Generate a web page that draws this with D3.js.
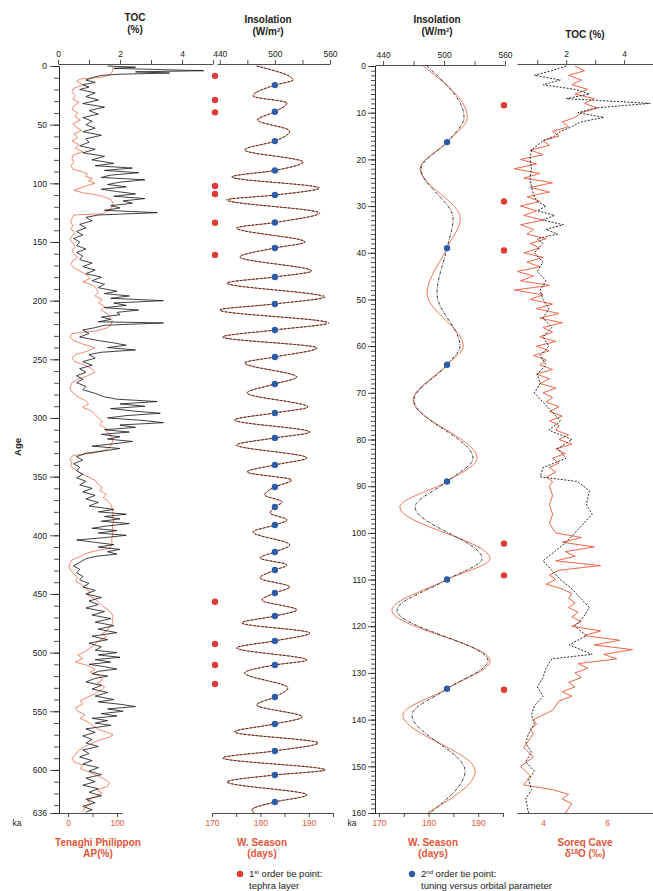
<!DOCTYPE html>
<html>
<head>
<meta charset="utf-8">
<script src="https://cdn.jsdelivr.net/npm/d3@7"></script>
<style>
	body { margin: 0; background: #fff; }
	svg { font-family: "Liberation Sans", Arial, sans-serif; }
</style>
</head>
<body>
<svg id="chart" width="653" height="891"></svg>
<script>
// Tenaghi Philippon, 0-636 ka: TOC (%) and arboreal pollen (%)
const tocTenaghi = [[0,1.6],[1,2.5],[2,1.8],[3,3.2],[4,4.7],[5,2.5],[6,3.6],[7,2.0],[8,1.4],[10,1.1],[12,0.9],[14,1.2],[16,0.8],[18,1.0],[20,0.7],[23,1.2],[26,0.9],[29,1.3],[32,0.8],[35,1.5],[38,1.0],[41,1.3],[44,0.8],[47,1.1],[50,0.9],[53,1.2],[56,0.8],[59,1.4],[62,0.9],[65,1.0],[68,0.7],[71,1.2],[74,0.8],[77,1.5],[80,1.1],[83,1.8],[85,1.2],[87,2.4],[89,1.5],[91,2.6],[93,1.7],[95,1.4],[97,2.8],[99,2.0],[101,1.6],[103,2.2],[105,1.4],[107,1.9],[109,2.5],[111,1.8],[113,2.8],[115,2.1],[117,2.4],[119,1.7],[121,2.0],[123,1.5],[125,3.2],[127,1.3],[129,0.9],[132,1.1],[135,0.7],[138,0.9],[141,0.6],[144,0.8],[147,0.5],[150,0.7],[153,0.6],[156,0.9],[159,0.6],[162,0.8],[165,0.7],[168,1.1],[171,0.8],[174,1.2],[177,0.9],[180,1.4],[183,1.1],[186,1.5],[189,1.3],[192,1.9],[194,1.5],[196,2.3],[198,1.7],[200,3.4],[202,1.8],[204,2.2],[206,1.5],[208,2.6],[210,1.9],[212,2.0],[214,1.4],[216,1.7],[218,1.3],[219,3.4],[221,1.5],[223,1.2],[225,0.8],[228,1.0],[231,0.7],[234,1.3],[236,1.8],[238,2.2],[240,1.6],[242,2.5],[244,1.4],[246,1.0],[249,1.2],[252,0.8],[255,1.1],[258,0.7],[261,0.9],[264,0.6],[267,0.8],[270,0.6],[273,0.9],[276,0.8],[279,1.2],[282,1.5],[284,1.9],[286,3.2],[288,2.0],[290,2.8],[292,1.7],[294,2.4],[296,3.3],[298,2.2],[300,1.6],[302,2.7],[304,3.4],[306,2.0],[308,2.5],[310,1.5],[312,2.3],[314,1.4],[316,2.0],[318,1.6],[320,2.4],[322,1.8],[324,1.1],[326,2.0],[328,1.5],[330,0.9],[333,0.6],[336,0.8],[339,0.5],[342,0.7],[345,0.6],[348,0.8],[351,0.6],[354,0.9],[357,0.7],[360,1.1],[363,0.8],[366,1.2],[369,0.9],[372,1.3],[375,1.0],[378,1.8],[380,1.3],[382,2.2],[384,1.5],[386,2.0],[388,1.4],[390,2.3],[392,1.6],[394,1.1],[396,1.9],[398,1.3],[400,2.2],[402,1.5],[404,0.6],[406,1.2],[408,1.8],[410,1.3],[412,2.0],[414,1.6],[416,1.9],[418,1.2],[420,0.9],[423,0.7],[426,0.5],[429,0.7],[432,0.6],[435,0.8],[438,0.7],[441,1.0],[444,0.8],[447,1.2],[450,0.9],[453,1.4],[456,1.0],[459,1.3],[462,0.9],[465,1.5],[468,1.1],[471,1.7],[474,1.2],[477,1.8],[480,1.3],[483,1.9],[486,1.1],[489,1.6],[492,1.0],[495,1.4],[498,1.2],[500,1.9],[502,1.3],[504,2.0],[506,1.2],[508,1.7],[510,1.0],[512,1.5],[514,1.9],[516,1.3],[518,1.1],[520,1.6],[522,1.2],[525,0.9],[528,1.4],[531,1.1],[534,1.6],[537,1.2],[540,1.8],[542,1.3],[544,2.0],[546,2.5],[548,1.6],[550,2.1],[552,1.4],[554,1.9],[556,1.1],[558,1.6],[560,1.2],[562,1.7],[565,0.9],[568,1.2],[571,0.8],[574,1.1],[577,0.9],[580,1.3],[583,0.8],[586,1.0],[589,0.7],[592,1.1],[595,0.8],[598,1.3],[601,1.0],[604,1.4],[607,0.9],[610,1.2],[613,0.8],[616,1.3],[619,1.0],[622,1.4],[625,0.9],[628,1.2],[631,0.8],[634,1.1],[636,0.9]];

const apTenaghi = [[0,88],[2,92],[5,90],[8,85],[10,60],[11,25],[13,18],[16,30],[19,12],[22,8],[25,15],[28,10],[31,22],[34,12],[37,8],[40,20],[43,14],[46,25],[49,10],[52,16],[55,28],[58,12],[61,20],[64,8],[67,22],[70,15],[73,30],[76,10],[79,8],[82,12],[85,6],[88,10],[90,28],[92,40],[94,35],[96,50],[98,42],[100,55],[102,38],[104,25],[106,12],[108,30],[110,60],[112,78],[114,88],[117,92],[120,90],[123,85],[126,70],[127,12],[130,8],[133,5],[136,10],[139,6],[142,14],[145,8],[148,4],[151,10],[154,15],[157,8],[160,12],[163,20],[166,10],[169,6],[172,12],[175,25],[178,38],[181,45],[184,30],[187,52],[190,58],[193,62],[196,55],[199,70],[202,62],[205,75],[208,68],[211,80],[214,85],[217,90],[220,88],[223,82],[226,55],[228,8],[231,4],[234,12],[237,30],[240,55],[243,40],[246,15],[249,8],[252,14],[255,35],[258,48],[261,55],[264,40],[267,20],[270,8],[273,5],[276,4],[279,12],[282,20],[285,35],[288,42],[291,30],[294,48],[297,55],[300,62],[303,70],[306,65],[309,78],[312,80],[315,88],[318,92],[321,90],[324,86],[327,80],[330,50],[332,10],[335,4],[338,8],[341,5],[344,15],[347,25],[350,40],[353,55],[356,60],[359,70],[362,65],[365,78],[368,72],[371,82],[374,88],[377,90],[380,92],[384,91],[388,93],[392,90],[396,92],[400,91],[404,89],[408,90],[411,85],[413,60],[415,40],[418,25],[421,8],[424,4],[427,2],[430,6],[433,12],[436,20],[439,15],[442,28],[445,35],[448,45],[451,40],[454,55],[457,62],[460,70],[463,80],[466,88],[469,92],[472,90],[475,92],[478,85],[481,80],[484,70],[487,78],[490,62],[493,55],[496,45],[499,35],[502,20],[505,30],[508,15],[511,40],[514,55],[517,45],[520,65],[523,70],[526,60],[529,75],[532,68],[535,55],[538,40],[541,25],[544,30],[547,15],[550,20],[553,35],[556,25],[559,40],[562,50],[565,60],[568,80],[570,92],[572,85],[575,60],[578,45],[581,30],[584,20],[587,15],[590,8],[593,12],[596,30],[599,25],[602,45],[605,60],[608,75],[611,85],[614,80],[617,60],[620,70],[623,55],[626,40],[629,45],[632,35],[636,30]];

// insolation (W/m2) and warm-season length (days): [age, insolation, days]
const orbitalLong = [[0,480,179.3],[11.9,520,186.7],[16.3,500,183.0],[25.6,476,178.5],[31.5,513,185.5],[39,500,183.0],[46,481,179.5],[55.4,516,186.1],[64,500,183.0],[71.6,467,176.8],[81.8,531,188.7],[89,500,183.0],[94.6,453,174.1],[104,549,191.9],[110,500,183.0],[114.1,447,173.3],[125.3,549,191.9],[133.4,500,183.0],[138.1,458,175.2],[150,533,189.2],[155.1,500,183.0],[162.8,462,175.8],[174.7,540,190.6],[179.8,500,183.0],[185,448,173.1],[196.9,555,192.9],[202.8,500,183.0],[208,440,171.6],[219,559,193.7],[225,500,183.0],[231,443,172.3],[240.3,546,191.7],[248,500,183.0],[253.1,467,176.8],[265.1,524,187.5],[271,500,183.0],[278.7,470,177.2],[290.6,536,189.8],[295.7,500,183.0],[301.7,456,174.7],[312,538,190.2],[317,500,183.0],[323,458,175.2],[334,535,189.6],[340,500,183.0],[346,470,177.2],[352.9,518,186.5],[358.8,500,183.0],[365.6,489,180.9],[371.6,508,184.4],[375.9,500,183.0],[381,495,182.0],[386.9,513,185.5],[391.2,500,183.0],[397.2,476,178.5],[408.2,516,186.1],[414.2,500,183.0],[419.3,484,179.9],[425.3,513,185.5],[429.6,500,183.0],[436.4,484,179.9],[444,516,186.1],[449.2,500,183.0],[455.2,486,180.3],[463.6,524,187.5],[468.8,500,183.0],[474.7,464,176.2],[483.3,538,190.2],[490,500,183.0],[496,458,175.2],[506.3,535,189.6],[510.5,500,183.0],[517.3,467,176.8],[530.1,514,185.7],[537.8,500,183.0],[544.6,480,179.3],[554.8,530,188.6],[560.8,500,183.0],[567.6,456,174.7],[577,547,191.9],[583.8,500,183.0],[589.8,443,172.3],[600,555,193.3],[604.3,500,183.0],[610.2,448,173.1],[621.3,535,189.6],[627.3,500,183.0],[634.1,475,178.2],[636.7,478,178.7]];

const orbitalShort = [[0,483.3,178.9],[11,519.7,187.8],[16.3,503,183.7],[22,477.4,178.3],[32.7,508.9,186.4],[39,503,183.7],[48.7,493.1,179.7],[60,515.7,187.0],[64,503,183.7],[71.6,470.5,176.9],[84,528.5,189.8],[89,503,183.7],[94.5,471.5,174.2],[105.5,537.4,192.4],[110,503,183.7],[116.6,453.8,172.6],[127.4,543.3,192.4],[133.4,503,183.7],[139,468.5,174.8],[151,520.7,189.4],[160,486.2,179.7]];

// Soreq Cave d18O (permil) and TOC (%), 0-160 ka
const soreqD18O = [[0,-5.0],[1,-5.3],[2,-4.8],[3,-5.2],[4,-4.9],[5,-5.4],[6,-5.0],[7,-5.6],[8,-5.3],[9,-5.7],[10,-5.2],[11,-5.0],[12,-4.6],[13,-4.8],[14,-4.3],[15,-4.5],[16,-4.0],[17,-4.2],[18,-3.6],[19,-4.0],[20,-3.3],[21,-3.8],[22,-3.1],[23,-3.9],[24,-3.4],[25,-4.3],[26,-3.6],[27,-4.2],[28,-3.5],[29,-3.9],[30,-3.3],[31,-3.8],[32,-3.4],[33,-4.0],[34,-3.3],[35,-3.7],[36,-3.5],[37,-4.1],[38,-3.6],[39,-3.9],[40,-3.4],[41,-4.0],[42,-3.5],[43,-3.9],[44,-3.2],[45,-3.7],[46,-3.3],[47,-4.2],[48,-3.1],[49,-4.0],[50,-3.6],[51,-4.3],[52,-3.8],[53,-4.5],[54,-3.9],[55,-4.6],[56,-4.0],[57,-4.3],[58,-3.9],[59,-4.4],[60,-3.8],[61,-4.2],[62,-3.7],[63,-4.1],[64,-3.9],[65,-4.3],[66,-3.8],[67,-4.2],[68,-3.9],[69,-4.4],[70,-4.0],[71,-4.3],[72,-4.1],[73,-4.5],[74,-4.2],[75,-4.6],[76,-4.2],[77,-4.5],[78,-4.4],[79,-4.8],[80,-4.5],[81,-4.9],[82,-4.4],[83,-4.7],[84,-4.3],[85,-4.5],[86,-4.2],[87,-4.4],[88,-4.1],[89,-4.3],[90,-4.2],[92,-4.3],[94,-4.2],[96,-4.3],[98,-4.2],[100,-4.4],[101,-5.2],[102,-4.6],[103,-5.6],[104,-4.7],[105,-5.0],[106,-4.4],[107,-5.8],[108,-4.5],[109,-4.2],[110,-4.4],[111,-4.1],[112,-4.6],[113,-4.9],[114,-4.8],[115,-5.0],[116,-4.8],[117,-5.1],[118,-4.9],[119,-5.2],[120,-4.9],[121,-5.8],[122,-5.3],[123,-6.4],[124,-5.6],[125,-6.8],[126,-5.9],[127,-6.3],[128,-5.1],[129,-5.4],[130,-5.0],[131,-5.2],[132,-4.8],[133,-5.0],[134,-4.6],[135,-4.9],[136,-4.5],[137,-4.4],[138,-4.3],[139,-4.0],[140,-3.7],[141,-3.8],[142,-3.6],[143,-3.7],[144,-3.6],[146,-3.4],[148,-3.7],[150,-3.3],[152,-3.6],[154,-3.4],[155,-4.3],[156,-4.8],[157,-4.6],[158,-4.9],[160,-4.7]];

const tocSoreqAge = [[0,2.0],[1,1.5],[2,0.9],[3,1.8],[4,1.2],[5,2.3],[6,2.8],[7,2.0],[8,4.9],[9,3.0],[10,2.4],[11,3.3],[12,2.5],[13,2.2],[14,1.8],[15,1.6],[16,1.2],[17,1.0],[18,0.8],[20,0.75],[22,0.8],[24,0.75],[26,0.8],[28,0.9],[29,1.0],[30,1.3],[31,1.0],[32,1.6],[33,1.2],[34,1.9],[35,1.3],[36,1.7],[37,1.0],[38,1.2],[40,0.9],[42,1.2],[44,1.0],[46,1.3],[48,1.1],[50,1.2],[52,1.4],[54,1.2],[56,1.5],[58,1.2],[60,1.4],[62,1.1],[64,1.3],[66,1.0],[68,1.1],[70,0.9],[72,1.2],[74,1.5],[76,1.8],[78,1.4],[80,2.2],[82,1.7],[84,2.0],[86,1.2],[88,1.1],[89,2.4],[91,2.8],[94,2.7],[96,2.9],[98,2.6],[100,2.3],[102,2.0],[104,1.6],[106,1.2],[108,1.5],[110,1.8],[112,2.2],[114,2.5],[116,2.8],[118,2.6],[120,2.3],[122,2.7],[124,2.1],[126,2.9],[127,1.5],[129,1.3],[131,1.2],[133,1.0],[135,1.2],[137,0.9],[139,0.8],[141,0.9],[143,0.7],[145,0.6],[147,0.8],[149,0.6],[151,0.9],[153,0.7],[155,0.8],[157,0.6],[160,0.7]];

// tie points (ka)
const tephraAges = [8.4, 29, 39.5, 102.3, 109.1, 133.6, 161, 456.6, 492.6, 510.5, 526.7];
const orbitalTieAges = [16.3, 39, 64, 89, 110, 133.4, 155.1, 179.8, 202.8, 225, 248, 271, 295.7, 317, 340, 358.8, 375.9, 391.2, 414.2, 429.6, 449.2, 468.8, 490, 510.5, 537.8, 560.8, 583.8, 604.3, 627.3];
const tieInsolLong = 500;
const tieInsolShort = 503;

const FONT = '"Liberation Sans", Arial, sans-serif';
const RED = '#ea5634';
const RED_TEXT = '#e2553a';
const DOT_RED = '#e03a36';
const DOT_BLUE = '#2d5ca6';

const svg = d3.select('#chart');

const ageLong = d3.scaleLinear().domain([0, 636.7]).range([66, 813]);
const ageShort = d3.scaleLinear().domain([0, 160]).range([66, 813]);
const tocLeft = d3.scaleLinear().domain([0, 5]).range([58, 213]);
const apScale = d3.scaleLinear().domain([-18.4, 110.2]).range([59, 122]);
const insolLong = d3.scaleLinear().domain([437, 560]).range([217, 330]);
const seasonLong = d3.scaleLinear().domain([170, 195]).range([212, 333]);
const insolShort = d3.scaleLinear().domain([432.1, 560]).range([375, 505]);
const seasonShort = d3.scaleLinear().domain([169.2, 195]).range([375, 503]);
const tocRight = d3.scaleLinear().domain([0.3, 5]).range([517, 653]);
const soreqScale = d3.scaleLinear().domain([-3.1875, -7.4375]).range([517, 653]);

const drawAxis = (axis, x, y, color) => {
	const g = svg.append('g')
		.attr('transform', `translate(${x}, ${y})`)
		.call(axis)
		.attr('font-family', FONT)
		.attr('font-size', 8.5);
	g.selectAll('path, line').attr('stroke', '#222').attr('stroke-width', 0.8);
	g.selectAll('text').attr('fill', color || '#222');
	return g;
};

const label = (x, y, text, opts = {}) => svg.append('text')
	.attr('x', x)
	.attr('y', y)
	.attr('text-anchor', opts.anchor || 'middle')
	.attr('font-size', opts.size || 10)
	.attr('font-weight', opts.weight || 'bold')
	.attr('fill', opts.color || '#222')
	.text(text);

// ---- age axes
drawAxis(d3.axisLeft(ageLong).tickValues(d3.range(0, 637, 10)).tickSize(5).tickFormat(''), 59, 0);
drawAxis(d3.axisLeft(ageLong).tickValues(d3.range(0, 601, 50).concat([636.7]))
	.tickSize(9).tickPadding(3).tickSizeOuter(0)
	.tickFormat(d => d > 636 ? '636' : d), 59, 0);
drawAxis(d3.axisLeft(ageShort).tickValues(d3.range(0, 161, 1)).tickSize(4).tickFormat(''), 375, 0);
drawAxis(d3.axisLeft(ageShort).tickValues(d3.range(0, 161, 10))
	.tickSize(7).tickPadding(2).tickSizeOuter(0), 375, 0);

// ---- top axes
drawAxis(d3.axisTop(tocLeft).tickValues([0, 1, 2, 3, 4, 5]).tickSize(4).tickSizeOuter(0)
	.tickFormat(d => d % 2 ? '' : d), 0, 64);
drawAxis(d3.axisTop(insolLong).tickValues([440, 470, 500, 530, 560]).tickSize(4).tickSizeOuter(0)
	.tickFormat(d => (d - 440) % 60 ? '' : d), 0, 64);
drawAxis(d3.axisTop(insolShort).tickValues([440, 470, 500, 530, 560]).tickSize(4).tickSizeOuter(0)
	.tickFormat(d => (d - 440) % 60 ? '' : d), 0, 65);
drawAxis(d3.axisTop(tocRight).tickValues([1, 2, 3, 4]).tickSize(4).tickSizeOuter(0)
	.tickFormat(d => d % 2 ? '' : d), 0, 64);

// ---- bottom axes
drawAxis(d3.axisBottom(apScale).tickValues([0, 50, 100]).tickSize(4).tickSizeOuter(0)
	.tickFormat(d => d === 50 ? '' : d), 0, 813, RED_TEXT);
drawAxis(d3.axisBottom(seasonLong).tickValues(d3.range(170, 196, 5)).tickSize(4).tickSizeOuter(0)
	.tickFormat(d => d % 10 ? '' : d), 0, 813, RED_TEXT);
drawAxis(d3.axisBottom(seasonShort).tickValues(d3.range(170, 196, 5)).tickSize(4).tickSizeOuter(0)
	.tickFormat(d => d % 10 ? '' : d), 0, 813, RED_TEXT);
drawAxis(d3.axisBottom(soreqScale).tickValues([-4, -6]).tickSize(0).tickPadding(7).tickSizeOuter(0)
	.tickFormat(d => Math.abs(d)), 0, 813, RED_TEXT);

// ---- panel 1: Tenaghi Philippon
svg.append('path')
	.datum(apTenaghi)
	.attr('fill', 'none')
	.attr('stroke', RED)
	.attr('stroke-width', 0.7)
	.attr('d', d3.line().x(d => apScale(d[1])).y(d => ageLong(d[0])));
svg.append('path')
	.datum(tocTenaghi)
	.attr('fill', 'none')
	.attr('stroke', '#111')
	.attr('stroke-width', 0.8)
	.attr('d', d3.line().x(d => tocLeft(d[1])).y(d => ageLong(d[0])));

// ---- panel 2: orbital curves 0-636 ka
svg.append('path')
	.datum(orbitalLong)
	.attr('fill', 'none')
	.attr('stroke', RED)
	.attr('stroke-width', 0.8)
	.attr('d', d3.line().curve(d3.curveMonotoneY).x(d => seasonLong(d[2])).y(d => ageLong(d[0])));
svg.append('path')
	.datum(orbitalLong)
	.attr('fill', 'none')
	.attr('stroke', '#222')
	.attr('stroke-width', 0.9)
	.attr('stroke-dasharray', '2.5,1.5')
	.attr('d', d3.line().curve(d3.curveMonotoneY).x(d => insolLong(d[1])).y(d => ageLong(d[0])));

// ---- panel 3: orbital curves 0-160 ka
svg.append('path')
	.datum(orbitalShort)
	.attr('fill', 'none')
	.attr('stroke', RED)
	.attr('stroke-width', 0.8)
	.attr('d', d3.line().curve(d3.curveMonotoneY).x(d => seasonShort(d[2])).y(d => ageShort(d[0])));
svg.append('path')
	.datum(orbitalShort)
	.attr('fill', 'none')
	.attr('stroke', '#222')
	.attr('stroke-width', 0.9)
	.attr('stroke-dasharray', '3,1.2,0.8,1.2')
	.attr('d', d3.line().curve(d3.curveMonotoneY).x(d => insolShort(d[1])).y(d => ageShort(d[0])));

// ---- panel 4: Soreq Cave
svg.append('path')
	.datum(soreqD18O)
	.attr('fill', 'none')
	.attr('stroke', RED)
	.attr('stroke-width', 0.9)
	.attr('d', d3.line().x(d => soreqScale(d[1])).y(d => ageShort(d[0])));
svg.append('path')
	.datum(tocSoreqAge)
	.attr('fill', 'none')
	.attr('stroke', '#111')
	.attr('stroke-width', 0.9)
	.attr('stroke-dasharray', '2,1.5')
	.attr('d', d3.line().x(d => tocRight(d[1])).y(d => ageShort(d[0])));

// ---- tie points
svg.append('g').selectAll('circle')
	.data(tephraAges)
	.join('circle')
	.attr('cx', 215)
	.attr('cy', d => ageLong(d))
	.attr('r', 3.2)
	.attr('fill', DOT_RED);
svg.append('g').selectAll('circle')
	.data(tephraAges.filter(d => d <= 160))
	.join('circle')
	.attr('cx', 504)
	.attr('cy', d => ageShort(d))
	.attr('r', 3.2)
	.attr('fill', DOT_RED);
svg.append('g').selectAll('circle')
	.data(orbitalTieAges)
	.join('circle')
	.attr('cx', insolLong(tieInsolLong))
	.attr('cy', d => ageLong(d))
	.attr('r', 3.2)
	.attr('fill', DOT_BLUE);
svg.append('g').selectAll('circle')
	.data(orbitalTieAges.filter(d => d <= 140))
	.join('circle')
	.attr('cx', insolShort(tieInsolShort))
	.attr('cy', d => ageShort(d))
	.attr('r', 3.2)
	.attr('fill', DOT_BLUE);

// ---- titles
label(135, 21, 'TOC');
label(135, 33, '(%)');
label(268, 23, 'Insolation');
label(268, 35, '(W/m²)');
label(437, 23, 'Insolation');
label(437, 35, '(W/m²)');
label(585, 38, 'TOC (%)');

label(98, 846, 'Tenaghi Philippon', {color: RED_TEXT});
label(98, 857, 'AP(%)', {color: RED_TEXT});
label(262, 846, 'W. Season', {color: RED_TEXT});
label(262, 857, '(days)', {color: RED_TEXT});
label(433, 846, 'W. Season', {color: RED_TEXT});
label(433, 857, '(days)', {color: RED_TEXT});
label(585, 846, 'Soreq Cave', {color: RED_TEXT});
svg.append('text')
	.attr('x', 585).attr('y', 857)
	.attr('text-anchor', 'middle')
	.attr('font-size', 10).attr('font-weight', 'bold').attr('fill', RED_TEXT)
	.call(t => {
		t.append('tspan').text('δ');
		t.append('tspan').attr('font-size', 6.5).attr('dy', -3.5).text('18');
		t.append('tspan').attr('dy', 3.5).text('O (‰)');
	});

label(17, 826, 'ka', {size: 8.5, weight: 'normal'});
label(352, 826, 'ka', {size: 8.5, weight: 'normal'});
svg.append('text')
	.attr('transform', 'translate(21, 447) rotate(-90)')
	.attr('text-anchor', 'middle')
	.attr('font-size', 9.5)
	.attr('font-weight', 'bold')
	.attr('fill', '#222')
	.text('Age');

// ---- legend
const legend = [
	{x: 240, color: DOT_RED, num: '1', sup: 'st', line1: ' order tie point:', line2: 'tephra layer'},
	{x: 412, color: DOT_BLUE, num: '2', sup: 'nd', line1: ' order tie point:', line2: 'tuning versus orbital parameter'}
];
legend.forEach(item => {
	svg.append('circle').attr('cx', item.x).attr('cy', 874).attr('r', 3.2).attr('fill', item.color);
	const t = svg.append('text')
		.attr('x', item.x + 9).attr('y', 877)
		.attr('font-size', 9.5).attr('fill', '#222');
	t.append('tspan').text(item.num);
	t.append('tspan').attr('font-size', 6).attr('dy', -3.5).text(item.sup);
	t.append('tspan').attr('dy', 3.5).text(item.line1);
	svg.append('text')
		.attr('x', item.x + 9).attr('y', 889)
		.attr('font-size', 9.5).attr('fill', '#222')
		.text(item.line2);
});
</script>
</body>
</html>
